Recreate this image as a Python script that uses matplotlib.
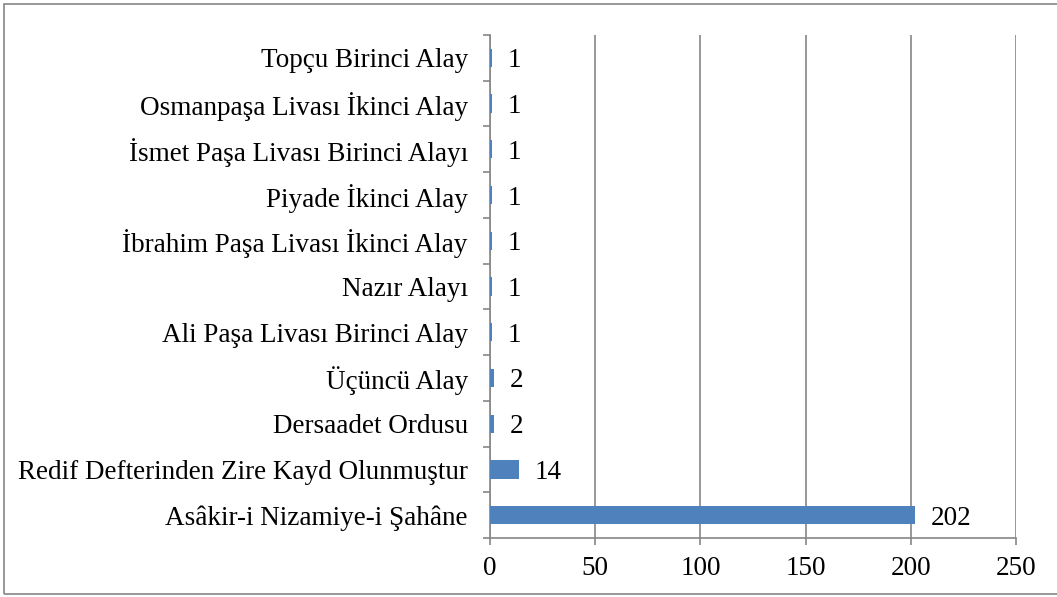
import matplotlib.pyplot as plt
from matplotlib.patches import Rectangle
from matplotlib.ticker import FixedLocator

plt.rcParams['font.family'] = ['Liberation Serif', 'DejaVu Serif']

categories = [
    "Asâkir-i Nizamiye-i Şahâne",
    "Redif Defterinden Zire Kayd Olunmuştur",
    "Dersaadet Ordusu",
    "Üçüncü Alay",
    "Ali Paşa Livası Birinci Alay",
    "Nazır Alayı",
    "İbrahim Paşa Livası İkinci Alay",
    "Piyade İkinci Alay",
    "İsmet Paşa Livası Birinci Alayı",
    "Osmanpaşa Livası İkinci Alay",
    "Topçu Birinci Alay",
]
counts = [202, 14, 2, 2, 1, 1, 1, 1, 1, 1, 1]
x_ticks = [0, 50, 100, 150, 200, 250]

grey = "#868686"
fs = 19.5
fig = plt.figure(figsize=(10.57, 5.97), dpi=100)
ax = fig.add_axes([0.4636, 0.0988, 0.4976, 0.8426])

ypos = list(range(len(categories)))
ax.barh(ypos, counts, height=0.4, color="#4F81BD", zorder=3)
for y, v in zip(ypos, counts):
    ax.annotate(str(v), (v, y), xytext=(11, 0), textcoords="offset points",
                va="center_baseline", ha="left", fontsize=fs)

ax.set_xlim(0, 250)
ax.set_ylim(-0.5, len(categories) - 0.5)
ax.set_xticks(x_ticks)
ax.set_yticks(ypos)
ax.set_yticklabels(categories)
ax.yaxis.set_minor_locator(FixedLocator([i - 0.5 for i in range(len(categories) + 1)]))
ax.tick_params(axis="y", which="major", length=0, pad=16, labelsize=fs)
ax.tick_params(axis="y", which="minor", length=5, color=grey, width=1.2)
ax.tick_params(axis="x", length=5, color=grey, width=1.2, pad=8, labelsize=fs)
ax.xaxis.grid(True, color=grey, linewidth=1.2, zorder=0)

for s in ["top", "right"]:
    ax.spines[s].set_visible(False)
for s in ["left", "bottom"]:
    ax.spines[s].set_color(grey)
    ax.spines[s].set_linewidth(1.2)

fig.patches.append(Rectangle((4 / 1057, 3 / 597), 1.1, 590 / 597, transform=fig.transFigure,
                             fill=False, edgecolor=grey, linewidth=1.2, clip_on=False))

fig.savefig("out.png", dpi=100)
